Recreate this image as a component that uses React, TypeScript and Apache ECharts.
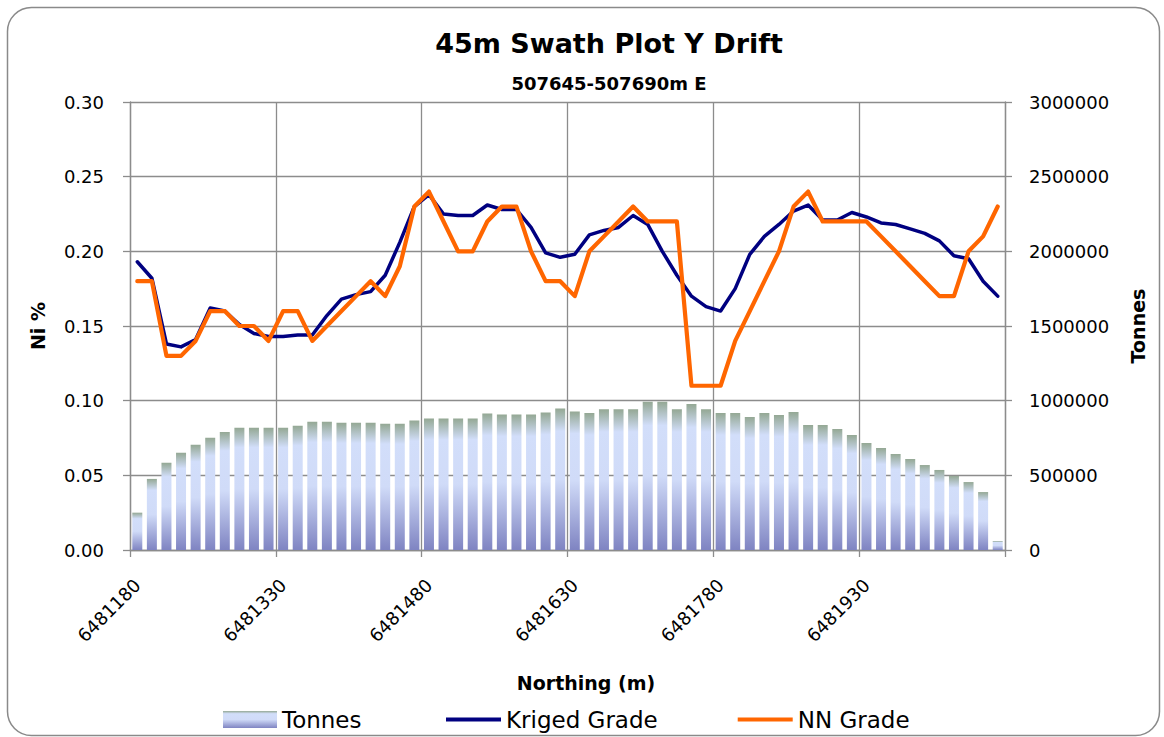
import React, { useEffect, useRef } from "react";
import * as echarts from "echarts";

const northing = [
  "6481180", "6481195", "6481210", "6481225", "6481240", "6481255", "6481270", "6481285", "6481300", "6481315",
  "6481330", "6481345", "6481360", "6481375", "6481390", "6481405", "6481420", "6481435", "6481450", "6481465",
  "6481480", "6481495", "6481510", "6481525", "6481540", "6481555", "6481570", "6481585", "6481600", "6481615",
  "6481630", "6481645", "6481660", "6481675", "6481690", "6481705", "6481720", "6481735", "6481750", "6481765",
  "6481780", "6481795", "6481810", "6481825", "6481840", "6481855", "6481870", "6481885", "6481900", "6481915",
  "6481930", "6481945", "6481960", "6481975", "6481990", "6482005", "6482020", "6482035", "6482050", "6482065",
];

const tonnes = [
  250000, 476000, 584000, 651000, 704000, 751000, 791000, 818000, 818000, 818000,
  818000, 832000, 859000, 859000, 852000, 852000, 852000, 845000, 845000, 868000,
  880000, 880000, 880000, 880000, 914000, 907000, 907000, 907000, 920000, 947000,
  928000, 917000, 942000, 942000, 942000, 993000, 993000, 942000, 978000, 942000,
  917000, 917000, 891000, 917000, 904000, 924000, 837000, 837000, 810000, 770000,
  716000, 683000, 643000, 609000, 569000, 536000, 496000, 455000, 388000, 60000,
];

const krigedGrade = [
  0.193, 0.182, 0.138, 0.136, 0.141, 0.162, 0.160, 0.151, 0.145, 0.143,
  0.143, 0.144, 0.144, 0.157, 0.168, 0.171, 0.173, 0.184, 0.206, 0.230,
  0.238, 0.225, 0.224, 0.224, 0.231, 0.228, 0.228, 0.216, 0.199, 0.196,
  0.198, 0.211, 0.214, 0.216, 0.224, 0.218, 0.200, 0.184, 0.170, 0.163,
  0.160, 0.175, 0.198, 0.210, 0.218, 0.227, 0.231, 0.221, 0.221, 0.226,
  0.223, 0.219, 0.218, 0.215, 0.212, 0.207, 0.197, 0.195, 0.180, 0.170,
];

const nnGrade = [
  0.18, 0.18, 0.13, 0.13, 0.14, 0.16, 0.16, 0.15, 0.15, 0.14,
  0.16, 0.16, 0.14, 0.15, 0.16, 0.17, 0.18, 0.17, 0.19, 0.23,
  0.24, 0.22, 0.20, 0.20, 0.22, 0.23, 0.23, 0.20, 0.18, 0.18,
  0.17, 0.20, 0.21, 0.22, 0.23, 0.22, 0.22, 0.22, 0.11, 0.11,
  0.11, 0.14, 0.16, 0.18, 0.20, 0.23, 0.24, 0.22, 0.22, 0.22,
  0.22, 0.21, 0.20, 0.19, 0.18, 0.17, 0.17, 0.20, 0.21, 0.23,
];

const FONT = "DejaVu Sans";
const GRID_GRAY = "#8c8c8c";

export default function App() {
  const ref = useRef<HTMLDivElement>(null);

  useEffect(() => {
    document.body.style.margin = "0";
    if (!ref.current) return;
    const chart = echarts.init(ref.current, null, { renderer: "svg" });

    const barGradient = new echarts.graphic.LinearGradient(0, 0, 0, 1, [
      { offset: 0, color: "#94a894" },
      { offset: 0.16, color: "#d2defa" },
      { offset: 0.5, color: "#d0dbf8" },
      { offset: 1, color: "#7f84c2" },
    ]);

    const axisLineStyle = { color: GRID_GRAY, width: 1.3 };
    const legendText = { fontFamily: FONT, fontSize: 23, color: "#000" };

    chart.setOption({
      animation: false,
      backgroundColor: "#ffffff",
      textStyle: { fontFamily: FONT },
      grid: { left: 130, right: 159, top: 102, bottom: 187, containLabel: false },
      legend: [
        {
          data: [{ name: "Tonnes", icon: "rect" }],
          left: 223,
          top: 708,
          padding: 0,
          itemWidth: 54,
          itemHeight: 17,
          textStyle: legendText,
        },
        {
          data: [
            { name: "Kriged Grade", icon: "rect" },
            { name: "NN Grade", icon: "rect" },
          ],
          left: 446,
          top: 708,
          padding: 0,
          itemWidth: 55,
          itemHeight: 4,
          itemGap: 80,
          textStyle: legendText,
        },
      ],
      xAxis: {
        type: "category",
        data: northing,
        boundaryGap: true,
        axisLine: { show: true, lineStyle: axisLineStyle },
        axisTick: { show: true, interval: 9, length: 7, lineStyle: axisLineStyle },
        axisLabel: {
          interval: 9,
          rotate: 45,
          margin: 32,
          fontFamily: FONT,
          fontSize: 18,
          color: "#000",
        },
        splitLine: { show: true, interval: 9, lineStyle: axisLineStyle },
      },
      yAxis: [
        {
          type: "value",
          position: "left",
          min: 0,
          max: 0.3,
          interval: 0.05,
          name: "Ni %",
          nameLocation: "middle",
          nameRotate: 90,
          nameGap: 83,
          nameTextStyle: { fontFamily: FONT, fontSize: 19, fontWeight: "bold", color: "#000" },
          axisLine: { show: true, lineStyle: axisLineStyle },
          axisTick: { show: true, length: 7, lineStyle: axisLineStyle },
          axisLabel: {
            margin: 26,
            fontFamily: FONT,
            fontSize: 18,
            color: "#000",
            formatter: (v: number) => v.toFixed(2),
          },
          splitLine: { show: true, lineStyle: axisLineStyle },
        },
        {
          type: "value",
          position: "right",
          min: 0,
          max: 3000000,
          interval: 500000,
          name: "Tonnes",
          nameLocation: "middle",
          nameRotate: 90,
          nameGap: 123,
          nameTextStyle: { fontFamily: FONT, fontSize: 19, fontWeight: "bold", color: "#000" },
          axisLine: { show: true, lineStyle: axisLineStyle },
          axisTick: { show: true, length: 7, lineStyle: axisLineStyle },
          axisLabel: {
            margin: 24,
            fontFamily: FONT,
            fontSize: 18,
            color: "#000",
            formatter: (v: number) => String(v),
          },
          splitLine: { show: false },
        },
      ],
      series: [
        {
          name: "Tonnes",
          type: "bar",
          yAxisIndex: 1,
          data: tonnes,
          barWidth: 10,
          itemStyle: { color: barGradient },
        },
        {
          name: "Kriged Grade",
          type: "line",
          yAxisIndex: 0,
          data: krigedGrade,
          symbol: "none",
          showSymbol: false,
          color: "#000080",
          lineStyle: { color: "#000080", width: 3.5, join: "round", cap: "round" },
        },
        {
          name: "NN Grade",
          type: "line",
          yAxisIndex: 0,
          data: nnGrade,
          symbol: "none",
          showSymbol: false,
          color: "#ff6600",
          lineStyle: { color: "#ff6600", width: 4.2, join: "round", cap: "round" },
        },
      ],
      graphic: [
        {
          type: "rect",
          shape: { x: 7.5, y: 7.5, width: 1152, height: 728, r: 24 },
          style: { fill: "none", stroke: "#8a8a8a", lineWidth: 1.5 },
          silent: true,
          z: -10,
        },
        {
          type: "text",
          x: 609,
          y: 43,
          style: {
            text: "45m Swath Plot Y Drift",
            fontFamily: FONT,
            fontSize: 27,
            fontWeight: "bold",
            fill: "#000",
            align: "center",
            verticalAlign: "middle",
          },
        },
        {
          type: "text",
          x: 609,
          y: 83,
          style: {
            text: "507645-507690m E",
            fontFamily: FONT,
            fontSize: 18,
            fontWeight: "bold",
            fill: "#000",
            align: "center",
            verticalAlign: "middle",
          },
        },
        {
          type: "text",
          x: 586,
          y: 683,
          style: {
            text: "Northing (m)",
            fontFamily: FONT,
            fontSize: 19,
            fontWeight: "bold",
            fill: "#000",
            align: "center",
            verticalAlign: "middle",
          },
        },
      ],
    });

    return () => {
      chart.dispose();
    };
  }, []);

  return <div ref={ref} style={{ width: 1164, height: 737, overflow: "hidden" }} />;
}
